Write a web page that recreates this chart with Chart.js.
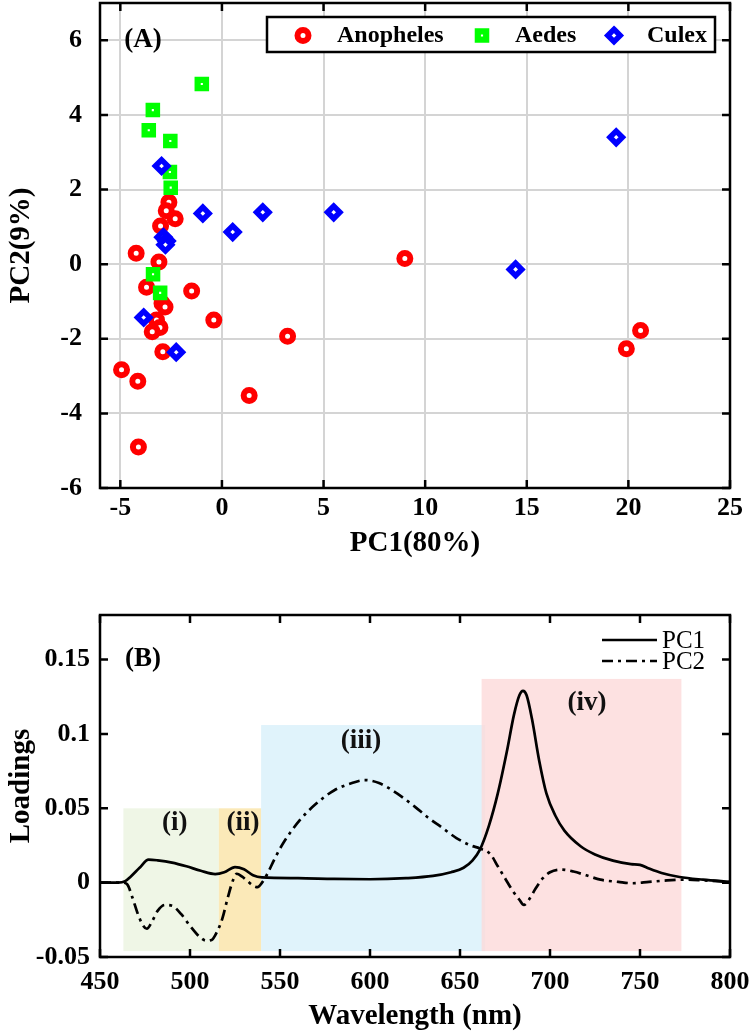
<!DOCTYPE html>
<html><head><meta charset="utf-8">
<script src="https://cdn.jsdelivr.net/npm/chart.js@4.4.0/dist/chart.umd.min.js"></script>
<style>
html,body{margin:0;padding:0;background:#fff;width:750px;height:1034px;overflow:hidden;}
#w1{position:absolute;left:0;top:0;width:750px;height:561px;}
#w2{position:absolute;left:0;top:590px;width:750px;height:444px;}
</style></head><body>
<div id="w1"><canvas id="c1"></canvas></div>
<div id="w2"><canvas id="c2"></canvas></div>
<script>
// ---------- Panel (A) data ----------
const seriesNames = ['Anopheles', 'Aedes', 'Culex'];
const anophelesX = [-2.61,-2.74,-2.30,-3.02,-4.22,-3.10,-3.71,-2.95,-2.80,-1.49,-0.40,-3.22,-3.05,-3.43,3.23,-2.91,-4.94,-4.14,1.34,-4.11,9.0,19.9,20.6];
const anophelesY = [1.66,1.43,1.22,1.02,0.29,0.06,-0.62,-1.05,-1.15,-0.72,-1.50,-1.50,-1.70,-1.81,-1.93,-2.35,-2.83,-3.14,-3.52,-4.90,0.15,-2.27,-1.78];
const aedesX = [-0.99,-3.40,-3.60,-2.54,-2.56,-2.52,-3.39,-3.04];
const aedesY = [4.83,4.13,3.59,3.30,2.47,2.05,-0.27,-0.77];
const culexX = [-2.97,-0.94,0.53,2.01,-2.88,-2.72,-2.78,-3.85,-2.25,5.5,14.45,19.4];
const culexY = [2.63,1.36,0.86,1.39,0.72,0.62,0.52,-1.43,-2.36,1.39,-0.14,3.40];
const xTicksA = [-5,0,5,10,15,20,25];
const yTicksA = [-6,-4,-2,0,2,4,6];

// ---------- Panel (B) data ----------
const pc1Wl = [450,460,464,467,472,477,482,490,498,506,514,519,525,530,535,540,560,580,600,620,635,645,652,657,661,666,671,676,680,683,685,687,690,694,698,703,708,717,725,735,745,750,755,762,772,785,800];
const pc1Val = [0,0,0.001,0.004,0.010,0.0155,0.015,0.0135,0.011,0.008,0.0058,0.007,0.0105,0.009,0.005,0.0035,0.003,0.0025,0.0023,0.003,0.0045,0.007,0.010,0.015,0.022,0.038,0.060,0.088,0.113,0.126,0.129,0.126,0.110,0.082,0.060,0.045,0.035,0.0245,0.019,0.0148,0.0125,0.012,0.0095,0.0065,0.0038,0.002,0.0005];
const pc2Wl = [450,462,465,468,471,474,476,479,482,486,490,495,500,505,509,512,515,518,521,524,526,529,532,535,537.5,540,543,547,552,561,570,580,590,597,605,615,625,632,640,648,656,661,667,671,675,679,683,685.5,688,692,696,700,706,713,720,728,738,746,755,765,775,785,800];
const pc2Val = [0,0,-0.001,-0.010,-0.021,-0.029,-0.031,-0.026,-0.019,-0.015,-0.0155,-0.021,-0.029,-0.036,-0.039,-0.0385,-0.033,-0.024,-0.010,0.002,0.006,0.004,0.001,-0.002,-0.003,0,0.006,0.016,0.027,0.042,0.053,0.062,0.067,0.069,0.067,0.060,0.051,0.044,0.037,0.030,0.025,0.023,0.019,0.011,0.003,-0.005,-0.0115,-0.015,-0.012,-0.004,0.003,0.007,0.0088,0.0075,0.005,0.002,0.0005,-0.0004,0.0005,0.0015,0.002,0.0015,0.0005];
const xTicksB = [450,500,550,600,650,700,750,800];
const yTicksB = [-0.05,0,0.05,0.1,0.15];
const regionLabels = ['(i)','(ii)','(iii)','(iv)'];
const regionStart = [463,516,539.5,662];
const regionEnd = [516,539.5,664,773];
const regionTop = [0.05,0.05,0.106,0.137];
const regionBottom = [-0.046,-0.046,-0.046,-0.046];
const regionLabelX = [491.5,529.5,595,720.5];
const regionLabelY = [0.040,0.040,0.095,0.121];
const regionColors = ['rgba(236,244,226,0.85)','rgba(250,226,160,0.75)','rgba(214,239,250,0.75)','rgba(253,218,218,0.8)'];

const FONT = '"Liberation Serif","Times New Roman",serif';
const pts = (xs, ys) => xs.map((v, i) => ({x: v, y: ys[i]}));

function drawMarker(ctx, style, r, bw, fill, stroke, x, y) {
  ctx.save();
  ctx.lineWidth = bw; ctx.strokeStyle = stroke; ctx.fillStyle = fill;
  ctx.beginPath();
  if (style === 'circle') { ctx.arc(x, y, r, 0, Math.PI * 2); }
  else if (style === 'rect') { const s = Math.SQRT1_2 * r; ctx.rect(x - s, y - s, 2 * s, 2 * s); }
  else { ctx.moveTo(x, y - r); ctx.lineTo(x + r, y); ctx.lineTo(x, y + r); ctx.lineTo(x - r, y); ctx.closePath(); }
  ctx.fill(); ctx.stroke();
  ctx.restore();
}

function frame(chart, L) {
  const {ctx, chartArea: a, scales: {x, y}} = chart;
  ctx.save();
  ctx.strokeStyle = '#000'; ctx.lineWidth = 2.5;
  ctx.beginPath();
  x.ticks.forEach(t => { const p = x.getPixelForValue(t.value);
    ctx.moveTo(p, a.bottom); ctx.lineTo(p, a.bottom - L);
    ctx.moveTo(p, a.top); ctx.lineTo(p, a.top + L); });
  y.ticks.forEach(t => { const p = y.getPixelForValue(t.value);
    ctx.moveTo(a.left, p); ctx.lineTo(a.left + L, p);
    ctx.moveTo(a.right, p); ctx.lineTo(a.right - L, p); });
  ctx.stroke();
  ctx.strokeRect(a.left, a.top, a.right - a.left, a.bottom - a.top);
  ctx.restore();
}

const panelAPlugin = {
  id: 'panelA',
  afterDatasetsDraw(chart) {
    frame(chart, 8);
    const {ctx, chartArea: a} = chart;
    ctx.save();
    ctx.font = 'bold 27px ' + FONT; ctx.fillStyle = '#000';
    ctx.textAlign = 'center'; ctx.textBaseline = 'middle';
    ctx.fillText('(A)', a.left + 43, a.top + 37);
    // legend box
    const bx = a.left + 167, by = a.top + 14, bw = a.right - 15 - bx, bh = 35;
    ctx.fillStyle = '#fff'; ctx.fillRect(bx, by, bw, bh);
    ctx.lineWidth = 2.5; ctx.strokeStyle = '#000'; ctx.strokeRect(bx, by, bw, bh);
    const cy = by + bh / 2 + 1;
    const mx = [bx + 36, bx + 215, bx + 347];
    const tx = [bx + 70, bx + 248, bx + 380];
    ctx.font = 'bold 24px ' + FONT; ctx.textAlign = 'left';
    chart.data.datasets.forEach((ds, i) => {
      drawMarker(ctx, ds.pointStyle, ds.pointRadius, ds.borderWidth, ds.backgroundColor, ds.borderColor, mx[i], cy);
      ctx.fillStyle = '#000';
      ctx.fillText(ds.label, tx[i], cy);
    });
    ctx.restore();
  }
};

const regionsPlugin = {
  id: 'regions',
  beforeDatasetsDraw(chart) {
    const {ctx, scales: {x, y}} = chart;
    ctx.save();
    regionStart.forEach((s, i) => {
      const x0 = x.getPixelForValue(s), x1 = x.getPixelForValue(regionEnd[i]);
      const y0 = y.getPixelForValue(regionTop[i]), y1 = y.getPixelForValue(regionBottom[i]);
      ctx.fillStyle = regionColors[i];
      ctx.fillRect(x0, y0, x1 - x0, y1 - y0);
    });
    ctx.font = 'bold 27px ' + FONT; ctx.fillStyle = '#111';
    ctx.textAlign = 'center'; ctx.textBaseline = 'middle';
    regionLabels.forEach((t, i) => {
      ctx.fillText(t, x.getPixelForValue(regionLabelX[i]), y.getPixelForValue(regionLabelY[i]));
    });
    ctx.restore();
  },
  afterDatasetsDraw(chart) {
    frame(chart, 8);
    const {ctx, chartArea: a} = chart;
    ctx.save();
    ctx.font = 'bold 27px ' + FONT; ctx.fillStyle = '#000';
    ctx.textAlign = 'center'; ctx.textBaseline = 'middle';
    ctx.fillText('(B)', a.left + 43, a.top + 44);
    // legend
    const x0 = a.right - 128, x1 = a.right - 73;
    ctx.font = '25px ' + FONT; ctx.textAlign = 'left';
    chart.data.datasets.forEach((ds, i) => {
      const yy = a.top + 25 + i * 21;
      ctx.beginPath(); ctx.lineWidth = ds.borderWidth; ctx.strokeStyle = ds.borderColor;
      ctx.setLineDash(ds.borderDash || []);
      ctx.moveTo(x0, yy); ctx.lineTo(x1, yy); ctx.stroke();
      ctx.setLineDash([]);
      ctx.fillStyle = '#000';
      ctx.fillText(ds.label, x1 + 5, yy + 1);
    });
    ctx.restore();
  }
};

function fixedTicks(arr) { return function(scale) { scale.ticks = arr.map(v => ({value: v})); }; }
function noPad(s) { s.paddingTop = 0; s.paddingBottom = 0; s.paddingLeft = 0; s.paddingRight = 0; }

new Chart(document.getElementById('c1'), {
  type: 'scatter',
  data: {
    datasets: [
      {label: seriesNames[0], data: pts(anophelesX, anophelesY), pointStyle: 'circle', pointRadius: 5.5, borderWidth: 6,
       backgroundColor: '#fff', borderColor: '#ff0000', order: 2},
      {label: seriesNames[1], data: pts(aedesX, aedesY), pointStyle: 'rect', pointRadius: 5.9, borderWidth: 6.2,
       backgroundColor: '#fff', borderColor: '#00ff00', order: 1},
      {label: seriesNames[2], data: pts(culexX, culexY), pointStyle: 'rectRot', pointRadius: 6.2, borderWidth: 5.5,
       backgroundColor: '#fff', borderColor: '#0000ff', order: 0}
    ]
  },
  options: {
    responsive: true, maintainAspectRatio: false, animation: false, events: [],
    layout: {autoPadding: false, padding: {top: 3, right: 20, left: 0, bottom: 0}},
    plugins: {legend: {display: false}, tooltip: {enabled: false}},
    scales: {
      x: {type: 'linear', min: -6, max: 25,
        afterBuildTicks: fixedTicks(xTicksA), afterFit: s => { s.height = 73; noPad(s); },
        grid: {color: '#d4d4d4', lineWidth: 2, drawTicks: false}, border: {display: false},
        ticks: {padding: 5, color: '#000', font: {family: FONT, size: 26, weight: 'bold'}, callback: v => String(v)},
        title: {display: true, text: 'PC1(80%)', color: '#000', padding: {top: 0, bottom: 0}, font: {family: FONT, size: 29, weight: 'bold'}}},
      y: {type: 'linear', min: -6, max: 7,
        afterBuildTicks: fixedTicks(yTicksA), afterFit: s => { s.width = 100; noPad(s); },
        grid: {color: '#d4d4d4', lineWidth: 2, drawTicks: false}, border: {display: false},
        ticks: {padding: 18, color: '#000', font: {family: FONT, size: 26, weight: 'bold'}, callback: v => String(v)},
        title: {display: true, text: 'PC2(9%)', color: '#000', padding: {top: 4, bottom: 0}, font: {family: FONT, size: 29, weight: 'bold'}}}
    }
  },
  plugins: [panelAPlugin]
});

new Chart(document.getElementById('c2'), {
  type: 'line',
  data: {
    datasets: [
      {label: 'PC1', data: pts(pc1Wl, pc1Val), borderColor: '#000', borderWidth: 2.7, pointRadius: 0,
       cubicInterpolationMode: 'monotone', fill: false},
      {label: 'PC2', data: pts(pc2Wl, pc2Val), borderColor: '#000', borderWidth: 2.7, pointRadius: 0,
       borderDash: [11, 5, 3, 5], cubicInterpolationMode: 'monotone', fill: false}
    ]
  },
  options: {
    responsive: true, maintainAspectRatio: false, animation: false, events: [],
    layout: {autoPadding: false, padding: {top: 25, right: 20, left: 0, bottom: 0}},
    plugins: {legend: {display: false}, tooltip: {enabled: false}},
    scales: {
      x: {type: 'linear', min: 450, max: 800,
        afterBuildTicks: fixedTicks(xTicksB), afterFit: s => { s.height = 77; noPad(s); },
        grid: {display: false, drawTicks: false}, border: {display: false},
        ticks: {padding: 10, color: '#000', font: {family: FONT, size: 26, weight: 'bold'}, callback: v => String(v)},
        title: {display: true, text: 'Wavelength (nm)', color: '#000', padding: {top: 0, bottom: 0}, font: {family: FONT, size: 29, weight: 'bold'}}},
      y: {type: 'linear', min: -0.05, max: 0.18,
        afterBuildTicks: fixedTicks(yTicksB), afterFit: s => { s.width = 100; noPad(s); },
        grid: {display: false, drawTicks: false}, border: {display: false},
        ticks: {padding: 10, color: '#000', font: {family: FONT, size: 26, weight: 'bold'}, callback: v => String(v)},
        title: {display: true, text: 'Loadings', color: '#000', padding: {top: 4, bottom: 0}, font: {family: FONT, size: 29, weight: 'bold'}}}
    }
  },
  plugins: [regionsPlugin]
});
</script>
</body></html>
